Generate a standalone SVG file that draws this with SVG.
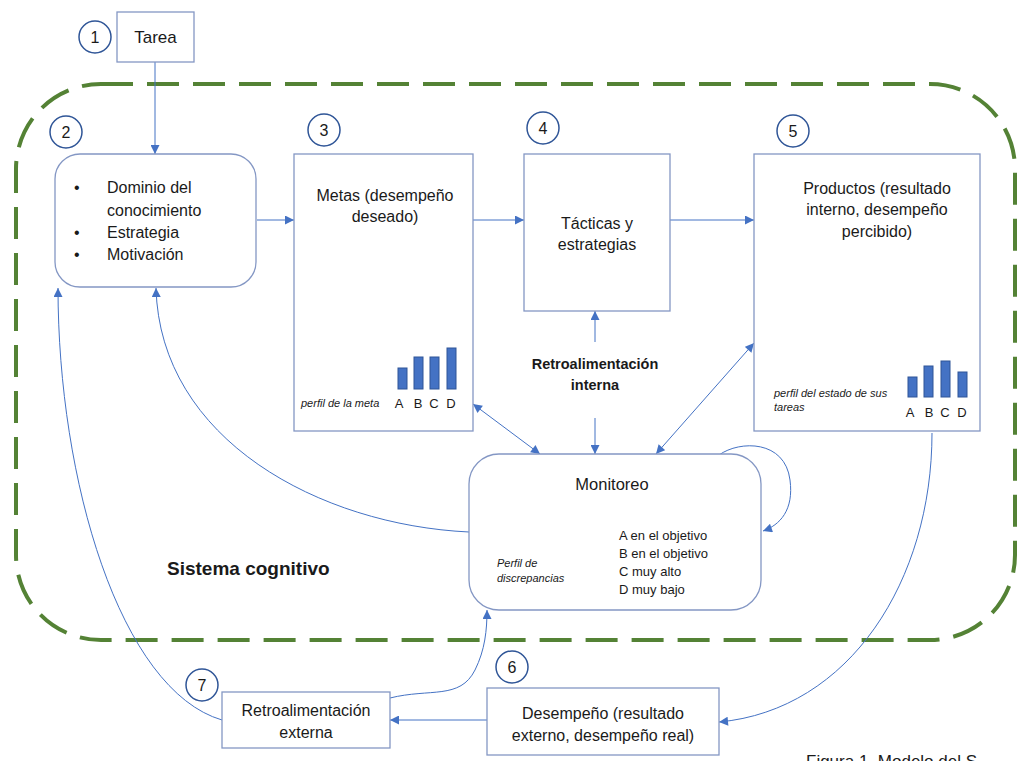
<svg xmlns="http://www.w3.org/2000/svg" width="1023" height="761" viewBox="0 0 1023 761">
<style>
text{font-family:"Liberation Sans",Arial,sans-serif;fill:#1a1a1a}
.lbl{font-size:16px}
.c{text-anchor:middle}
.num{font-size:16px;text-anchor:middle}
.it{font-style:italic;font-size:11px}
.sm{font-size:13px}
.box{fill:#fff;stroke:#8497C4;stroke-width:1.3}
.circ{fill:#fff;stroke:#2F5597;stroke-width:1.5}
.bar{fill:#4472C4;stroke:#2F5597;stroke-width:1}
.con{fill:none;stroke:#4472C4;stroke-width:1}
</style>
<defs>
<marker id="ah" viewBox="0 0 10 10" refX="10" refY="5" markerWidth="10" markerHeight="9" markerUnits="userSpaceOnUse" orient="auto-start-reverse">
<path d="M0,0 L10,5 L0,10 z" fill="#4472C4"/>
</marker>
</defs>
<rect width="1023" height="761" fill="#fff"/>
<g id="sistema">
<rect x="16" y="84" width="999" height="556" rx="85" fill="none" stroke="#548235" stroke-width="4" stroke-dasharray="32 14"/>
<text x="167" y="575" style="font-size:19px;font-weight:bold">Sistema cognitivo</text>
</g>
<g id="connectors">
<path class="con" d="M155,62 V154" marker-end="url(#ah)"/>
<path class="con" d="M257,220 H294" marker-end="url(#ah)"/>
<path class="con" d="M473,220 H524" marker-end="url(#ah)"/>
<path class="con" d="M670,220 H754" marker-end="url(#ah)"/>
<path class="con" d="M595,342 V311" marker-end="url(#ah)"/>
<path class="con" d="M595,418 V454" marker-end="url(#ah)"/>
<path class="con" d="M473,404 L540,454" marker-start="url(#ah)" marker-end="url(#ah)"/>
<path class="con" d="M754,343 L656,454" marker-start="url(#ah)" marker-end="url(#ah)"/>
<path class="con" d="M719,455 C740,440 785,440 790,480 C794,510 780,525 763,531" marker-end="url(#ah)"/>
<path class="con" d="M469,532 C320,525 160,440 156,288" marker-end="url(#ah)"/>
<path class="con" d="M222,720 C120,690 58,480 58,288" marker-end="url(#ah)"/>
<path class="con" d="M932,433 C932,580 850,710 719,722" marker-end="url(#ah)"/>
<path class="con" d="M487,720 H390" marker-end="url(#ah)"/>
<path class="con" d="M390,698 C430,688 460,700 475,670 C485,650 487,630 487,610" marker-end="url(#ah)"/>
</g>
<g id="n1">
<rect class="box" x="117" y="12" width="77" height="50"/>
<text class="c" x="155.5" y="43" style="font-size:17px">Tarea</text>
<circle class="circ" cx="95" cy="37" r="16"/>
<text class="num" x="95" y="43">1</text>
</g>
<g id="n2">
<rect class="box" x="55" y="154" width="201" height="133" rx="25"/>
<circle class="circ" cx="66" cy="132" r="16"/>
<text class="num" x="66" y="138">2</text>
<text class="lbl" x="74" y="193">•</text>
<text class="lbl" x="107" y="193">Dominio del</text>
<text class="lbl" x="107" y="216">conocimiento</text>
<text class="lbl" x="74" y="238">•</text>
<text class="lbl" x="107" y="238">Estrategia</text>
<text class="lbl" x="74" y="260">•</text>
<text class="lbl" x="107" y="260">Motivación</text>
</g>
<g id="n3">
<rect class="box" x="294" y="154" width="179" height="277"/>
<circle class="circ" cx="324" cy="130" r="16"/>
<text class="num" x="324" y="136">3</text>
<text class="lbl c" x="385" y="201">Metas (desempeño</text>
<text class="lbl c" x="385" y="222">deseado)</text>
<rect class="bar" x="398" y="368" width="9" height="21"/>
<rect class="bar" x="414" y="357" width="9" height="32"/>
<rect class="bar" x="430" y="357" width="9" height="32"/>
<rect class="bar" x="447" y="348" width="9" height="41"/>
<text class="sm c" x="399" y="408">A</text>
<text class="sm c" x="418" y="408">B</text>
<text class="sm c" x="434" y="408">C</text>
<text class="sm c" x="451" y="408">D</text>
<text class="it" x="301" y="407">perfil de la meta</text>
</g>
<g id="n4">
<rect class="box" x="524" y="154" width="146" height="157"/>
<circle class="circ" cx="543" cy="128" r="16"/>
<text class="num" x="543" y="134">4</text>
<text class="lbl c" x="597" y="229">Tácticas y</text>
<text class="lbl c" x="597" y="250">estrategias</text>
</g>
<g id="retro-interna">
<text class="c" x="595" y="369" style="font-size:14.5px;font-weight:bold">Retroalimentación</text>
<text class="c" x="595" y="390" style="font-size:14.5px;font-weight:bold">interna</text>
</g>
<g id="n5">
<rect class="box" x="754" y="154" width="226" height="277"/>
<circle class="circ" cx="793" cy="131" r="16"/>
<text class="num" x="793" y="137">5</text>
<text class="lbl c" x="877" y="194">Productos (resultado</text>
<text class="lbl c" x="877" y="215">interno, desempeño</text>
<text class="lbl c" x="877" y="237">percibido)</text>
<rect class="bar" x="908" y="377" width="9" height="20"/>
<rect class="bar" x="924" y="366" width="9" height="31"/>
<rect class="bar" x="941" y="361" width="9" height="36"/>
<rect class="bar" x="958" y="372" width="9" height="25"/>
<text class="sm c" x="910" y="417">A</text>
<text class="sm c" x="929" y="417">B</text>
<text class="sm c" x="945" y="417">C</text>
<text class="sm c" x="962" y="417">D</text>
<text class="it" x="774" y="397">perfil del estado de sus</text>
<text class="it" x="774" y="411">tareas</text>
</g>
<g id="monitoreo">
<rect class="box" x="469" y="454" width="292" height="156" rx="30"/>
<text class="c" x="612" y="490" style="font-size:16.5px">Monitoreo</text>
<text class="sm" x="619" y="540">A en el objetivo</text>
<text class="sm" x="619" y="558">B en el objetivo</text>
<text class="sm" x="619" y="576">C muy alto</text>
<text class="sm" x="619" y="594">D muy bajo</text>
<text class="it" x="497" y="567">Perfil de</text>
<text class="it" x="497" y="582">discrepancias</text>
</g>
<g id="n6">
<rect class="box" x="487" y="688" width="232" height="67"/>
<circle class="circ" cx="512" cy="667" r="16"/>
<text class="num" x="512" y="673">6</text>
<text class="lbl c" x="603" y="719">Desempeño (resultado</text>
<text class="lbl c" x="603" y="741">externo, desempeño real)</text>
</g>
<g id="n7">
<rect class="box" x="222" y="692" width="168" height="56"/>
<circle class="circ" cx="202" cy="685" r="16"/>
<text class="num" x="202" y="691">7</text>
<text class="lbl c" x="306" y="716">Retroalimentación</text>
<text class="lbl c" x="306" y="738">externa</text>
</g>
<text x="806" y="767" style="font-size:17px">Figura 1. Modelo del S</text>
</svg>
